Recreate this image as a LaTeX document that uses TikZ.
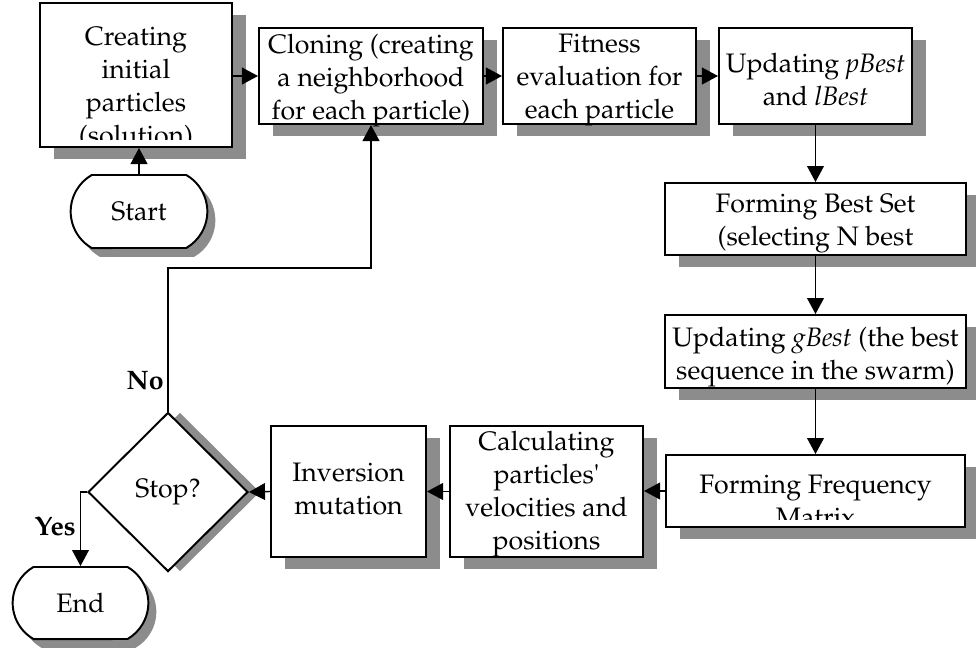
\documentclass[tikz,border=0pt]{standalone}
\usepackage[T1]{fontenc}
\usepackage{mathpazo}
\usetikzlibrary{arrows.meta,shapes.geometric,shapes.misc,shadows}

\tikzset{
  box/.style={draw, rectangle, line width=1.4pt, fill=white, inner sep=0pt,
    drop shadow={shadow xshift=0.35cm, shadow yshift=-0.3cm, fill=black!45, opacity=1}},
  term/.style={draw, rounded rectangle, rounded rectangle arc length=120, line width=1.4pt, fill=white,
    drop shadow={shadow xshift=0.2cm, shadow yshift=-0.22cm, fill=black!45, opacity=1}},
  decision/.style={draw, diamond, line width=1.4pt, fill=white, inner sep=0pt,
    drop shadow={shadow xshift=0.3cm, shadow yshift=0cm, fill=black!45, opacity=1}},
  txt/.style={align=center, inner sep=0pt, anchor=north, execute at begin node={\rule{0pt}{16pt}}},
  lbl/.style={font=\fontsize{19}{23.5}\selectfont\bfseries, inner sep=0pt, anchor=base east},
  flow/.style={line width=1pt, -{Triangle[length=0.4cm, width=0.42cm]}}
}

\begin{document}
\begin{tikzpicture}[x=0.025cm, y=-0.025cm, font=\fontsize{19}{23.5}\selectfont]
  \useasboundingbox (0,0) rectangle (976,647);

  % the boxes
  \node[box, minimum width=4.8cm, minimum height=3.6cm] (create) at (136,75) {};
  \node[term, minimum width=3.65cm, minimum height=1.825cm] (start) at (139,211.5) {Start};
  \node[box, minimum width=5.6cm, minimum height=2.4cm] (clone) at (371,76) {};
  \node[box, minimum width=4.825cm, minimum height=2.4cm] (fitness) at (599.5,76) {};
  \node[box, minimum width=4.825cm, minimum height=2.4cm] (pbest) at (815.5,76) {};
  \node[box, minimum width=7.525cm, minimum height=1.8cm] (bestset) at (815.5,219) {};
  \node[box, minimum width=7.525cm, minimum height=1.825cm] (gbest) at (815.5,351.5) {};
  \node[box, minimum width=7.475cm, minimum height=1.8cm] (freq) at (815.5,491) {};
  \node[box, minimum width=4.825cm, minimum height=3.275cm] (calc) at (546.5,491.5) {};
  \node[box, minimum width=3.875cm, minimum height=3.275cm] (invert) at (348.5,491.5) {};
  \node[decision, minimum width=4cm, minimum height=3.975cm] (stop) at (168,492) {Stop?};
  \node[term, minimum width=3.625cm, minimum height=1.8cm] (end) at (80.5,603) {End};

  % texts (two of them run past the box and are cut)
  \begin{scope}
    \clip (create.north west) rectangle ([yshift=0.225cm]create.south east);
    \node[txt] (create-t) at (136,26.4) {Creating\\initial\\particles\\(solution)};
  \end{scope}
  \node[txt] (clone-t) at (371,33.4) {Cloning (creating\\a neighborhood\\for each particle)};
  \node[txt] (fitness-t) at (599.5,33.4) {Fitness\\evaluation for\\each particle};
  \node[txt] (pbest-t) at (815.5,52.4) {Updating \textit{pBest}\\and \textit{lBest}};
  \node[txt] (bestset-t) at (815.5,193.4) {Forming Best Set\\(selecting N best};
  \node[txt] (gbest-t) at (815.5,326.4) {Updating \textit{gBest} (the best\\sequence in the swarm)};
  \begin{scope}
    \clip (freq.north west) rectangle ([yshift=0.225cm]freq.south east);
    \node[txt] (freq-t) at (815.5,474.4) {Forming Frequency\\Matrix};
  \end{scope}
  \node[txt] (calc-t) at (546.5,430.4) {Calculating\\particles\textquotesingle\\velocities and\\positions};
  \node[txt] (invert-t) at (348.5,462.4) {Inversion\\mutation};

  % connectors
  \coordinate (back) at (371,268);
  \draw[flow] (start.north) -- (start.north |- create.south);
  \draw[flow] (clone.west -| create.east) -- (clone.west);
  \draw[flow] (clone) -- (fitness);
  \draw[flow] (fitness) -- (pbest);
  \draw[flow] (pbest) -- (bestset);
  \draw[flow] (bestset) -- (gbest);
  \draw[flow] (gbest) -- (freq);
  \draw[flow] (freq.west) -- (freq.west -| calc.east);
  \draw[flow] (calc) -- (invert);
  \draw[flow] (invert.west) -- (stop.east);
  \draw[flow] (stop.west) -| (end.north);
  \draw[flow] (stop.north) |- (back) -- (clone.south);

  \node[lbl] (no) at (164,389) {No};
  \node[lbl] (yes) at (76,535) {Yes};
\end{tikzpicture}
\end{document}
